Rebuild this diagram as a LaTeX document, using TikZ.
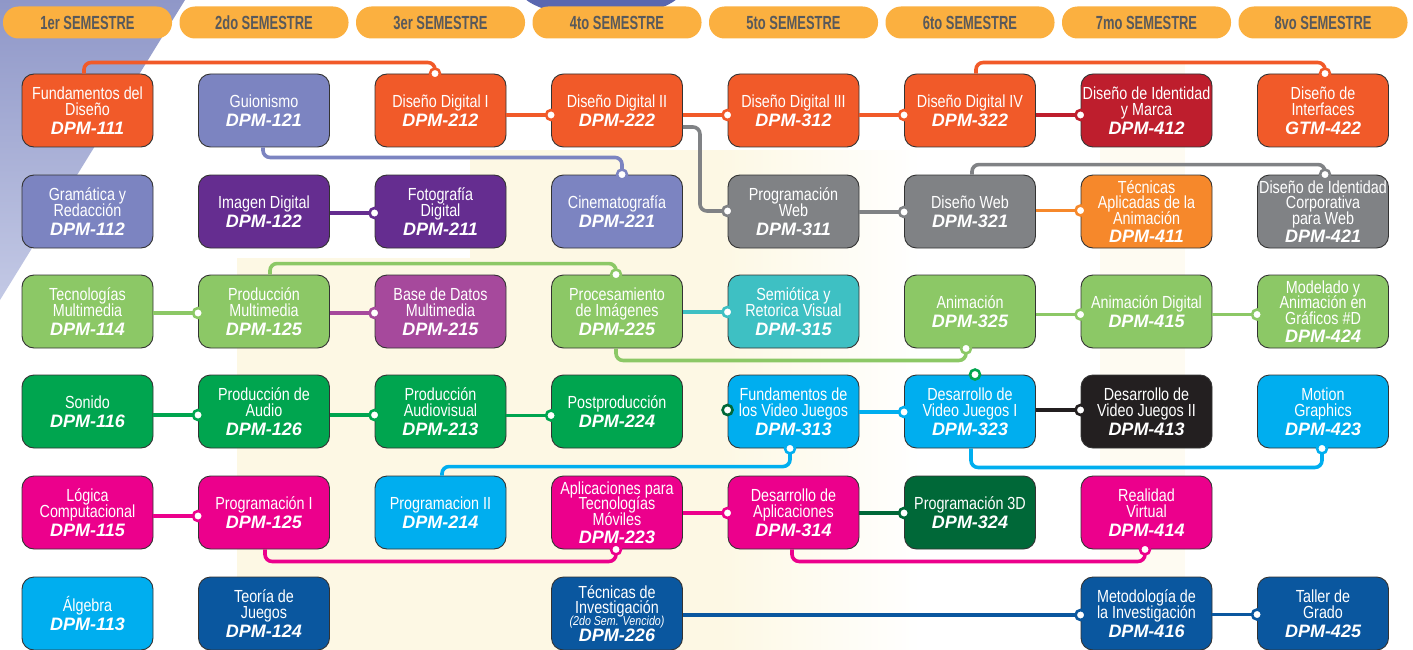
\documentclass[tikz,border=0pt]{standalone}
\usepackage{fontspec}
\setmainfont{Liberation Sans}
\newfontfamily\namefam{Liberation Sans}[FakeStretch=0.82]
\newfontfamily\headfam{Liberation Sans}[FakeStretch=0.68]
\newfontfamily\codefam{Liberation Sans}
\usetikzlibrary{calc}
\definecolor{cOrange}{HTML}{F15A29}
\definecolor{cLav}{HTML}{7C84C1}
\definecolor{cPurple}{HTML}{652D90}
\definecolor{cGray}{HTML}{808285}
\definecolor{cLGreen}{HTML}{8CC866}
\definecolor{cMPurple}{HTML}{A6499C}
\definecolor{cTeal}{HTML}{3EC0C3}
\definecolor{cGreen}{HTML}{00A54F}
\definecolor{cLBlue}{HTML}{00AEEF}
\definecolor{cMagenta}{HTML}{EC008C}
\definecolor{cDBlue}{HTML}{0A579F}
\definecolor{cDGreen}{HTML}{006838}
\definecolor{cBlack}{HTML}{231F20}
\definecolor{cCrimson}{HTML}{BE1E2D}
\definecolor{cLOrange}{HTML}{F6882B}
\definecolor{cPill}{HTML}{FBB040}
\definecolor{cPillText}{HTML}{58595B}
\definecolor{cEdge}{HTML}{333333}
\definecolor{cCream}{HTML}{FDF8E4}
\definecolor{cLavA}{HTML}{8F97C8}
\definecolor{cLavB}{HTML}{C3C9E5}
\definecolor{cBlob}{HTML}{5A67B0}
\newcommand\namefont{\namefam\fontsize{17.5}{15.5}\selectfont\lineskiplimit-100pt\relax}
\newcommand\cc[1]{{\codefam\bfseries\itshape\fontsize{18}{18}\selectfont #1}}
\newcommand\hlink[5]{\draw[conn=#1] ($(#2.east)+(0,#4)$) -- ($(#3.west)+(0,#4)$) node[cdot=#1] (#5) {};}
\begin{document}
\begin{tikzpicture}[x=1pt,y=-1pt,
  cbox/.style={draw=cEdge, line width=0.9pt, rounded corners=12pt, minimum width=131pt, minimum height=73pt, inner sep=0pt, align=center, text=white, font=\namefont},
  conn/.style={draw=#1, line width=3.6pt, rounded corners=7pt},
  cdot/.style={circle, draw=#1, fill=white, line width=2.6pt, minimum size=10pt, inner sep=0pt},
  pill/.style={fill=cPill, rounded corners=15.5pt, minimum width=169pt, minimum height=32pt, inner sep=0pt, text=cPillText, font=\headfam\bfseries\fontsize{19}{19}\selectfont}]
\useasboundingbox (0,0) rectangle (1413,650);
\fill[white] (0,0) rectangle (1413,650);
% background
\shade[top color=cLavA, bottom color=cLavB] (0,0) -- (185,0) -- (0,300) -- cycle;
\fill[cCream] (237,650) -- (237,258) -- (470,258) -- (470,150) -- (722,150) -- (722,650) -- cycle;
\shade[left color=cCream, right color=white] (720,150) rectangle (920,650);
\fill[cCream, opacity=0.45] (1100,60) rectangle (1185,650);
\fill[cBlob] (601,-12) ellipse (82 and 29);
% semester headers
\node[pill] (s1) at (87.5,22.5) {1er SEMESTRE};
\node[pill] (s2) at (264,22.5) {2do SEMESTRE};
\node[pill] (s3) at (440.5,22.5) {3er SEMESTRE};
\node[pill] (s4) at (617,22.5) {4to SEMESTRE};
\node[pill] (s5) at (793.5,22.5) {5to SEMESTRE};
\node[pill] (s6) at (970,22.5) {6to SEMESTRE};
\node[pill] (s7) at (1146.5,22.5) {7mo SEMESTRE};
\node[pill] (s8) at (1323,22.5) {8vo SEMESTRE};
% row 1
\node[cbox, fill=cOrange] (p111) at (87.5,110.5) {Fundamentos del\\Diseño\\[3.5pt]\cc{DPM-111}};
\node[cbox, fill=cLav] (p121) at (264,110.5) {Guionismo\\[3.5pt]\cc{DPM-121}};
\node[cbox, fill=cOrange] (p212) at (440.5,110.5) {Diseño Digital I\\[3.5pt]\cc{DPM-212}};
\node[cbox, fill=cOrange] (p222) at (617,110.5) {Diseño Digital II\\[3.5pt]\cc{DPM-222}};
\node[cbox, fill=cOrange] (p312) at (793.5,110.5) {Diseño Digital III\\[3.5pt]\cc{DPM-312}};
\node[cbox, fill=cOrange] (p322) at (970,110.5) {Diseño Digital IV\\[3.5pt]\cc{DPM-322}};
\node[cbox, fill=cCrimson] (p412) at (1146.5,110.5) {Diseño de Identidad\\y Marca\\[3.5pt]\cc{DPM-412}};
\node[cbox, fill=cOrange] (p422) at (1323,110.5) {Diseño de\\Interfaces\\[3.5pt]\cc{GTM-422}};
% row 2
\node[cbox, fill=cLav] (p112) at (87.5,211.5) {Gramática y\\Redacción\\[3.5pt]\cc{DPM-112}};
\node[cbox, fill=cPurple] (p122) at (264,211.5) {Imagen Digital\\[3.5pt]\cc{DPM-122}};
\node[cbox, fill=cPurple] (p211) at (440.5,211.5) {Fotografía\\Digital\\[3.5pt]\cc{DPM-211}};
\node[cbox, fill=cLav] (p221) at (617,211.5) {Cinematografía\\[3.5pt]\cc{DPM-221}};
\node[cbox, fill=cGray] (p311) at (793.5,211.5) {Programación\\Web\\[3.5pt]\cc{DPM-311}};
\node[cbox, fill=cGray] (p321) at (970,211.5) {Diseño Web\\[3.5pt]\cc{DPM-321}};
\node[cbox, fill=cLOrange] (p411) at (1146.5,211.5) {Técnicas\\Aplicadas de la\\Animación\\[2.5pt]\cc{DPM-411}};
\node[cbox, fill=cGray] (p421) at (1323,211.5) {Diseño de Identidad\\Corporativa\\para Web\\[2.5pt]\cc{DPM-421}};
% row 3
\node[cbox, fill=cLGreen] (p114) at (87.5,311.5) {Tecnologías\\Multimedia\\[3.5pt]\cc{DPM-114}};
\node[cbox, fill=cLGreen] (p125a) at (264,311.5) {Producción\\Multimedia\\[3.5pt]\cc{DPM-125}};
\node[cbox, fill=cMPurple] (p215) at (440.5,311.5) {Base de Datos\\Multimedia\\[3.5pt]\cc{DPM-215}};
\node[cbox, fill=cLGreen] (p225) at (617,311.5) {Procesamiento\\de Imágenes\\[3.5pt]\cc{DPM-225}};
\node[cbox, fill=cTeal] (p315) at (793.5,311.5) {Semiótica y\\Retorica Visual\\[3.5pt]\cc{DPM-315}};
\node[cbox, fill=cLGreen] (p325) at (970,311.5) {Animación\\[3.5pt]\cc{DPM-325}};
\node[cbox, fill=cLGreen] (p415) at (1146.5,311.5) {Animación Digital\\[3.5pt]\cc{DPM-415}};
\node[cbox, fill=cLGreen] (p424) at (1323,311.5) {Modelado y\\Animación en\\Gráficos \#D\\[2.5pt]\cc{DPM-424}};
% row 4
\node[cbox, fill=cGreen] (p116) at (87.5,411.5) {Sonido\\[3.5pt]\cc{DPM-116}};
\node[cbox, fill=cGreen] (p126) at (264,411.5) {Producción de\\Audio\\[3.5pt]\cc{DPM-126}};
\node[cbox, fill=cGreen] (p213) at (440.5,411.5) {Producción\\Audiovisual\\[3.5pt]\cc{DPM-213}};
\node[cbox, fill=cGreen] (p224) at (617,411.5) {Postproducción\\[3.5pt]\cc{DPM-224}};
\node[cbox, fill=cLBlue] (p313) at (793.5,411.5) {Fundamentos de\\los Video Juegos\\[3.5pt]\cc{DPM-313}};
\node[cbox, fill=cLBlue] (p323) at (970,411.5) {Desarrollo de\\Video Juegos I\\[3.5pt]\cc{DPM-323}};
\node[cbox, fill=cBlack] (p413) at (1146.5,411.5) {Desarrollo de\\Video Juegos II\\[3.5pt]\cc{DPM-413}};
\node[cbox, fill=cLBlue] (p423) at (1323,411.5) {Motion\\Graphics\\[3.5pt]\cc{DPM-423}};
% row 5
\node[cbox, fill=cMagenta] (p115) at (87.5,512.5) {Lógica\\Computacional\\[3.5pt]\cc{DPM-115}};
\node[cbox, fill=cMagenta] (p125b) at (264,512.5) {Programación I\\[3.5pt]\cc{DPM-125}};
\node[cbox, fill=cLBlue] (p214) at (440.5,512.5) {Programacion II\\[3.5pt]\cc{DPM-214}};
\node[cbox, fill=cMagenta] (p223) at (617,512.5) {Aplicaciones para\\Tecnologías\\Móviles\\[2.5pt]\cc{DPM-223}};
\node[cbox, fill=cMagenta] (p314) at (793.5,512.5) {Desarrollo de\\Aplicaciones\\[3.5pt]\cc{DPM-314}};
\node[cbox, fill=cDGreen] (p324) at (970,512.5) {Programación 3D\\[3.5pt]\cc{DPM-324}};
\node[cbox, fill=cMagenta] (p414) at (1146.5,512.5) {Realidad\\Virtual\\[3.5pt]\cc{DPM-414}};
% row 6
\node[cbox, fill=cLBlue] (p113) at (87.5,613.5) {Álgebra\\[3.5pt]\cc{DPM-113}};
\node[cbox, fill=cDBlue] (p124) at (264,613.5) {Teoría de\\Juegos\\[3.5pt]\cc{DPM-124}};
\node[cbox, fill=cDBlue] (p226) at (617,613.5) {Técnicas de\\Investigación\\[-3.5pt]{\fontsize{13}{13}\selectfont\itshape (2do Sem. Vencido)}\\[0pt]\cc{DPM-226}};
\node[cbox, fill=cDBlue] (p416) at (1146.5,613.5) {Metodología de\\la Investigación\\[3.5pt]\cc{DPM-416}};
\node[cbox, fill=cDBlue] (p425) at (1323,613.5) {Taller de\\Grado\\[3.5pt]\cc{DPM-425}};
% connectors: row 1
\draw[conn=cOrange] ($(p111.north)+(-3.5,0)$) -- ++(0,-11) -| ($(p212.north)+(-5.5,0)$) node[cdot=cOrange] (d1) {};
\hlink{cOrange}{p212}{p222}{4.5}{d2}
\hlink{cOrange}{p222}{p312}{4.5}{d3}
\hlink{cOrange}{p312}{p322}{4.5}{d4}
\hlink{cCrimson}{p322}{p412}{4.5}{d5}
\draw[conn=cOrange] ($(p322.north)+(6,0)$) -- ++(0,-11) -| ($(p422.north)+(2,0)$) node[cdot=cOrange] (d6) {};
\draw[conn=cLav] ($(p121.south)+(-1,0)$) -- ++(0,10) -| ($(p221.north)+(5,0)$) node[cdot=cLav] (d7) {};
% row 2
\draw[conn=cGray] ($(p222.east)+(0,16.5)$) -- ++(17,0) |- ($(p311.west)+(0,-0.5)$) node[cdot=cGray] (d8) {};
\hlink{cGray}{p311}{p321}{0.5}{d9}
\draw[conn=cGray] ($(p321.north)+(2,0)$) -- ++(0,-10) -| ($(p421.north)+(2,0)$) node[cdot=cGray] (d10) {};
\hlink{cLOrange}{p321}{p411}{-1}{d11}
\hlink{cPurple}{p122}{p211}{1.5}{d12}
% row 3
\hlink{cLGreen}{p114}{p125a}{1.5}{d13}
\hlink{cMPurple}{p125a}{p215}{1.5}{d14}
\draw[conn=cLGreen] ($(p125a.north)+(6,0)$) -- ++(0,-11) -| ($(p225.north)+(-1,0)$) node[cdot=cLGreen] (d15) {};
\hlink{cTeal}{p225}{p315}{0.5}{d16}
\draw[conn=cLGreen] ($(p225.south)+(-1,0)$) -- ++(0,12) -| ($(p325.south)+(-4,0)$) node[cdot=cLGreen] (d17) {};
\hlink{cLGreen}{p325}{p415}{3}{d18}
\hlink{cLGreen}{p415}{p424}{3}{d19}
% row 4
\hlink{cGreen}{p116}{p126}{3.5}{d20}
\hlink{cGreen}{p126}{p213}{3.5}{d21}
\hlink{cGreen}{p213}{p224}{4}{d22}
\hlink{cLBlue}{p313}{p323}{0.5}{d23}
\hlink{cBlack}{p323}{p413}{-1.5}{d24}
\draw[conn=cLBlue] ($(p323.south)+(1,0)$) -- ++(0,19) -| ($(p423.south)+(-1,0)$) node[cdot=cLBlue] (d25) {};
\draw[conn=cLBlue] ($(p214.north)+(1.5,0)$) -- ++(0,-9) -| ($(p313.south)+(-3.5,0)$) node[cdot=cLBlue] (d26) {};
\node[cdot=cGreen] (d27) at ($(p323.north)+(5,0)$) {};
\node[cdot=cDGreen] (d28) at ($(p313.west)+(0,-1.5)$) {};
% row 5
\hlink{cMagenta}{p115}{p125b}{3.5}{d29}
\draw[conn=cMagenta] ($(p125b.south)+(1,0)$) -- ++(0,12) -| ($(p223.south)+(-1,0)$) node[cdot=cMagenta] (d30) {};
\hlink{cMagenta}{p223}{p314}{0.5}{d31}
\hlink{cDGreen}{p314}{p324}{0.5}{d32}
\draw[conn=cMagenta] ($(p314.south)+(-1.5,0)$) -- ++(0,12) -| ($(p414.south)+(-1.5,0)$) node[cdot=cMagenta] (d33) {};
% row 6
\hlink{cDBlue}{p226}{p416}{1.5}{d34}
\hlink{cDBlue}{p416}{p425}{1}{d35}
\end{tikzpicture}
\end{document}
